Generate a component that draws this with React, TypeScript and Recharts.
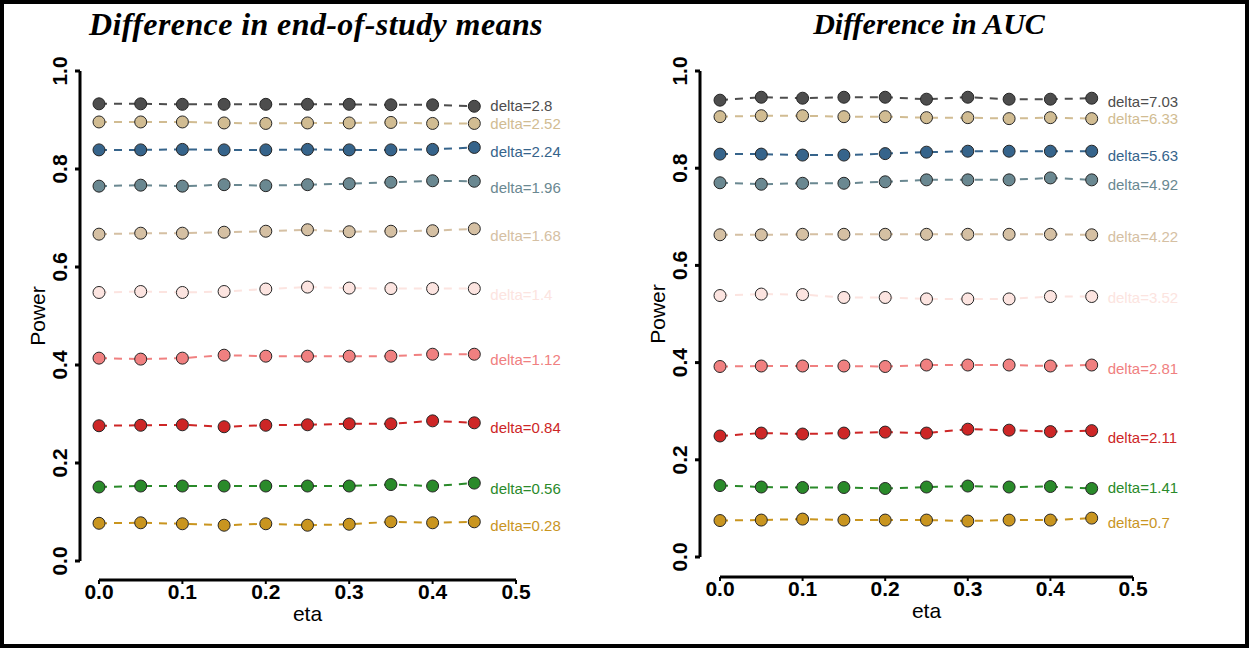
import { LineChart, Line, XAxis, YAxis, ReferenceDot } from 'recharts'

const SANS = '"Liberation Sans", Arial, sans-serif'
const SERIF = '"Liberation Serif", "Times New Roman", serif'

// eta values shared by both panels
const eta = [0, 0.05, 0.1, 0.15, 0.2, 0.25, 0.3, 0.35, 0.4, 0.45]
const xTicks = [0, 0.1, 0.2, 0.3, 0.4, 0.5]
const yTicks = [0, 0.2, 0.4, 0.6, 0.8, 1]

// end-of-study means, one row of power per delta
const meansDeltas = ['2.8', '2.52', '2.24', '1.96', '1.68', '1.4', '1.12', '0.84', '0.56', '0.28']
const meansPower = [
  [0.933, 0.933, 0.932, 0.932, 0.932, 0.932, 0.932, 0.931, 0.931, 0.928],
  [0.896, 0.896, 0.896, 0.894, 0.893, 0.894, 0.894, 0.895, 0.893, 0.893],
  [0.839, 0.839, 0.840, 0.839, 0.839, 0.840, 0.839, 0.839, 0.840, 0.844],
  [0.765, 0.767, 0.765, 0.768, 0.766, 0.768, 0.770, 0.773, 0.776, 0.775],
  [0.667, 0.669, 0.669, 0.671, 0.673, 0.676, 0.672, 0.673, 0.674, 0.678],
  [0.548, 0.550, 0.548, 0.550, 0.555, 0.559, 0.557, 0.556, 0.556, 0.556],
  [0.414, 0.412, 0.414, 0.420, 0.418, 0.418, 0.418, 0.418, 0.422, 0.422],
  [0.276, 0.277, 0.278, 0.274, 0.277, 0.278, 0.280, 0.280, 0.286, 0.282],
  [0.151, 0.153, 0.153, 0.153, 0.153, 0.153, 0.153, 0.156, 0.153, 0.159],
  [0.077, 0.078, 0.076, 0.073, 0.076, 0.073, 0.075, 0.080, 0.078, 0.080],
]

// AUC
const aucDeltas = ['7.03', '6.33', '5.63', '4.92', '4.22', '3.52', '2.81', '2.11', '1.41', '0.7']
const aucPower = [
  [0.940, 0.946, 0.944, 0.946, 0.946, 0.942, 0.946, 0.942, 0.942, 0.944],
  [0.906, 0.908, 0.908, 0.906, 0.906, 0.904, 0.904, 0.902, 0.904, 0.902],
  [0.829, 0.829, 0.827, 0.827, 0.830, 0.833, 0.835, 0.835, 0.835, 0.835],
  [0.770, 0.767, 0.769, 0.769, 0.772, 0.776, 0.776, 0.776, 0.780, 0.776],
  [0.663, 0.663, 0.664, 0.664, 0.664, 0.664, 0.664, 0.664, 0.664, 0.663],
  [0.538, 0.541, 0.540, 0.534, 0.534, 0.531, 0.531, 0.531, 0.536, 0.536],
  [0.392, 0.393, 0.393, 0.393, 0.392, 0.395, 0.395, 0.395, 0.393, 0.395],
  [0.249, 0.255, 0.253, 0.255, 0.257, 0.255, 0.263, 0.261, 0.258, 0.260],
  [0.147, 0.144, 0.143, 0.143, 0.141, 0.144, 0.146, 0.144, 0.145, 0.141],
  [0.075, 0.076, 0.078, 0.076, 0.076, 0.076, 0.074, 0.076, 0.076, 0.080],
]

const COLORS = [
  '#4d4d4d', '#d1bc92', '#36648b', '#6a8891', '#d5c0a3',
  '#fce4e0', '#f08080', '#cd2626', '#2a8a2a', '#c9951f',
]

function YTick({ x, y, payload }: any) {
  const bx = x - 8
  return (
    <text
      x={bx}
      y={y}
      transform={`rotate(-90, ${bx}, ${y})`}
      textAnchor="middle"
      fontSize={21}
      fontWeight="bold"
      fontFamily={SANS}
      fill="#000"
    >
      {Number(payload.value).toFixed(1)}
    </text>
  )
}

function DeltaText({ viewBox, text, color }: any) {
  if (!viewBox) return null
  return (
    <text x={viewBox.x + 16} y={viewBox.y + 2} dy="0.35em" fontSize={15} fontFamily={SANS} fill={color}>
      {text}
    </text>
  )
}

interface PanelProps {
  left: number
  width: number
  gap: number
  margin: { top: number; right: number; bottom: number; left: number }
  title: string
  titleCenter: number
  titleSize: number
  titleSpacing: number
  deltas: string[]
  power: number[][]
}

function Panel({ left, width, gap, margin, title, titleCenter, titleSize, titleSpacing, deltas, power }: PanelProps) {
  const rows = eta.map((e, i) => {
    const row: Record<string, number> = { eta: e }
    power.forEach((s, k) => {
      row['p' + k] = s[i]
    })
    return row
  })

  return (
    <div style={{ position: 'absolute', left, top: 0, width, height: 648 }}>
      <div
        style={{
          position: 'absolute',
          left: titleCenter - 320,
          top: 9,
          width: 640,
          textAlign: 'center',
          fontFamily: SERIF,
          fontWeight: 'bold',
          fontStyle: 'italic',
          fontSize: titleSize,
          letterSpacing: titleSpacing,
          lineHeight: '30px',
          whiteSpace: 'nowrap',
        }}
      >
        {title}
      </div>
      <LineChart width={width} height={648} data={rows} margin={margin}>
        {/* empty axes only push the visible ones away from the plot */}
        <XAxis xAxisId="gap" dataKey="eta" type="number" domain={[0, 0.5]} height={gap} tick={false} axisLine={false} tickLine={false} />
        <XAxis
          xAxisId="main"
          dataKey="eta"
          type="number"
          domain={[0, 0.5]}
          ticks={xTicks}
          height={24}
          tickSize={4}
          tickMargin={0}
          tickFormatter={(v: number) => v.toFixed(1)}
          axisLine={{ stroke: '#000', strokeWidth: 3 }}
          tickLine={{ stroke: '#000', strokeWidth: 2 }}
          tick={{ fill: '#000', fontSize: 21, fontWeight: 'bold', fontFamily: SANS }}
          label={{ value: 'eta', position: 'bottom', offset: 2, fill: '#000', fontSize: 21, fontFamily: SANS }}
        />
        <YAxis yAxisId="gap" type="number" domain={[0, 1]} width={gap} tick={false} axisLine={false} tickLine={false} />
        <YAxis
          yAxisId="main"
          type="number"
          domain={[0, 1]}
          ticks={yTicks}
          width={40}
          tickSize={5}
          tickMargin={0}
          axisLine={{ stroke: '#000', strokeWidth: 3 }}
          tickLine={{ stroke: '#000', strokeWidth: 3 }}
          tick={<YTick />}
          label={{
            value: 'Power',
            angle: -90,
            position: 'insideLeft',
            offset: -2,
            fill: '#000',
            fontSize: 21,
            fontFamily: SANS,
            style: { textAnchor: 'middle' },
          }}
        />
        {power.map((_, k) => (
          <Line
            key={'line-' + k}
            xAxisId="main"
            yAxisId="main"
            dataKey={'p' + k}
            type="linear"
            stroke={COLORS[k]}
            strokeWidth={2}
            strokeDasharray="8 7"
            dot={{ r: 6, fill: COLORS[k], stroke: '#262626', strokeWidth: 1, strokeDasharray: 'none' }}
            activeDot={false}
            isAnimationActive={false}
          />
        ))}
        {deltas.map((d, k) => (
          <ReferenceDot
            key={'lab-' + k}
            xAxisId="main"
            yAxisId="main"
            x={eta[eta.length - 1]}
            y={power[k][0]}
            r={0}
            fill="none"
            stroke="none"
            label={{ content: (p: any) => <DeltaText viewBox={p.viewBox} text={`delta=${d}`} color={COLORS[k]} /> }}
          />
        ))}
      </LineChart>
    </div>
  )
}

export default function App() {
  return (
    <div style={{ position: 'absolute', left: 0, top: 0, width: 1249, height: 648, background: '#fff' }}>
      <Panel
        left={0}
        width={620}
        gap={19}
        margin={{ top: 71, right: 104, bottom: 44, left: 40 }}
        title="Difference in end-of-study means"
        titleCenter={316}
        titleSize={32}
        titleSpacing={0.4}
        deltas={meansDeltas}
        power={meansPower}
      />
      <Panel
        left={620}
        width={629}
        gap={20}
        margin={{ top: 71, right: 116, bottom: 47, left: 40 }}
        title="Difference in AUC"
        titleCenter={309}
        titleSize={30}
        titleSpacing={0}
        deltas={aucDeltas}
        power={aucPower}
      />
      <div
        style={{
          position: 'absolute',
          left: 0,
          top: 0,
          width: 1249,
          height: 648,
          boxSizing: 'border-box',
          border: '4px solid #000',
          pointerEvents: 'none',
        }}
      />
    </div>
  )
}
